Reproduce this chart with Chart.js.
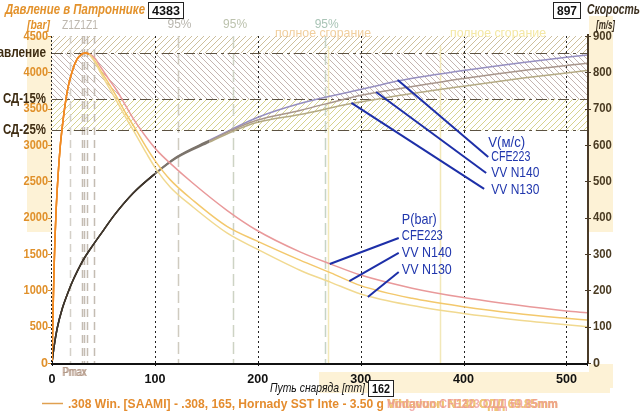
<!DOCTYPE html>
<html>
<head>
<meta charset="utf-8">
<script src="https://cdn.jsdelivr.net/npm/chart.js@4"></script>
<style>
  html, body { margin: 0; padding: 0; background: #fff; }
</style>
</head>
<body>
<canvas id="myChart" width="640" height="415"></canvas>
<script>

  ////////////////////
 // DONNÉES        //
////////////////////

// Pression (bar) selon le trajet de la balle (mm)
const distP = [0,1,2,3,4,6,8,10,13,16,20,24,28,32,36,42,47,55,63,72,82,92,102,115,137,170,199,241,271,300,350,400,450,500,520];
const pressCFE = [0,700,1300,1750,2100,2600,2980,3250,3580,3820,4030,4170,4240,4265,4255,4190,4080,3910,3750,3530,3297,3100,2926,2747,2473,2101,1827,1529,1360,1210,1030,900,800,715,690];
const pressN140 = [0,700,1300,1750,2100,2600,2980,3250,3580,3820,4030,4170,4240,4265,4250,4150,4030,3850,3658,3430,3200,2960,2747,2520,2239,1880,1680,1415,1240,1065,890,775,685,615,590];
const pressN130 = [0,700,1300,1750,2100,2600,2980,3250,3580,3820,4030,4170,4240,4262,4245,4130,4000,3800,3600,3370,3130,2880,2651,2420,2147,1790,1570,1277,1110,950,790,680,595,525,500];

// Vitesse (m/s)
const distV = [0,2,5,10,15,20,25,30,40,50,60,79,100,121,153,176,199,241,291,316,337,400,460,520];
const velCFE = [0,45,95,150,190,225,255,282,325,365,405,468,521,567,613,645,675,714,747,763,777,805,828,848];
const velN140 = [0,45,95,150,190,225,255,282,325,365,405,468,521,566,611,642,668,695,731,745,755,783,806,825];
const velN130 = [0,45,95,150,190,225,255,282,325,365,405,468,520,564,608,638,662,684,714,726,736,762,785,805];

// Graduations
const xTicks = [0,100,200,300,400,500];
const pTicks = [0,500,1000,1500,2000,2500,3000,3500,4000,4500];
const vTicks = [0,100,200,300,400,500,600,700,800,900];

// Niveaux de référence (bar)
const refLevels = [4265,3630,3200];
const refNames = ['давление','СД-15%','СД-25%'];

// Repères verticaux (mm)
const zMarks = [17.5,29,31,34,41];
const pct95Marks = [122,176,265];
const burnMarks = [268,377];

// Légendes bleues
const vNames = ['V(м/с)','CFE223','VV N140','VV N130'];
const pNames = ['P(bar)','CFE223','VV N140','VV N130'];


  ////////////////////
 // OUTILS         //
////////////////////

const pts = (xs, ys) => xs.map((x, i) => ({ x: x, y: ys[i] }));

function hatch(ctx, color, dir) {
  const c = document.createElement('canvas');
  c.width = 6; c.height = 6;
  const g = c.getContext('2d');
  g.strokeStyle = color;
  g.lineWidth = 1;
  g.beginPath();
  if (dir > 0) {
    g.moveTo(-1, 7); g.lineTo(7, -1);
    g.moveTo(-4, 4); g.lineTo(4, -4);
    g.moveTo(2, 10); g.lineTo(10, 2);
  } else {
    g.moveTo(-1, -1); g.lineTo(7, 7);
    g.moveTo(2, -4); g.lineTo(10, 4);
    g.moveTo(-4, 2); g.lineTo(4, 10);
  }
  g.stroke();
  return ctx.createPattern(c, 'repeat');
}

function txt(ctx, s, x, y, font, color, align, w) {
  ctx.save();
  ctx.font = font;
  ctx.fillStyle = color;
  ctx.textBaseline = 'middle';
  const m = ctx.measureText(s).width;
  const k = w ? w / m : 1;
  const width = m * k;
  let left = x;
  if (align === 'center') left = x - width / 2;
  if (align === 'right') left = x - width;
  ctx.translate(left, y);
  ctx.scale(k, 1);
  ctx.textAlign = 'left';
  ctx.fillText(s, 0, 0);
  ctx.restore();
}

function box(ctx, s, x, y, w, h) {
  ctx.save();
  ctx.fillStyle = '#fff';
  ctx.fillRect(x, y, w, h);
  ctx.strokeStyle = '#222';
  ctx.lineWidth = 1;
  ctx.strokeRect(x + 0.5, y + 0.5, w - 1, h - 1);
  ctx.restore();
  txt(ctx, s, x + w / 2, y + h / 2 + 1, 'bold 13px "Liberation Sans"', '#111', 'center', w - 8);
}

function vline(ctx, x, top, bottom, color, width, dash) {
  ctx.save();
  ctx.strokeStyle = color;
  ctx.lineWidth = width;
  ctx.setLineDash(dash);
  ctx.beginPath();
  ctx.moveTo(Math.round(x) + 0.5, top);
  ctx.lineTo(Math.round(x) + 0.5, bottom);
  ctx.stroke();
  ctx.restore();
}


  ////////////////////
 // DÉCOR          //
////////////////////

const decor = {
  id: 'decor',
  beforeDraw(chart) {
    const ctx = chart.ctx;
    ctx.save();
    ctx.fillStyle = '#fff';
    ctx.fillRect(0, 0, chart.width, chart.height);
    ctx.fillStyle = '#fdf2d6';
    ctx.fillRect(27, 36, 25, 196);
    ctx.fillRect(589, 16, 24, 216);
    ctx.fillRect(589, 364, 24, 24);
    ctx.fillRect(319, 372, 291, 21);
    ctx.restore();
  },
  beforeDatasetsDraw(chart) {
    const ctx = chart.ctx;
    const a = chart.chartArea;
    const x = chart.scales.x, yP = chart.scales.yP;

    // bandes hachurées
    const bands = [
      [4500, refLevels[0], hatch(ctx, '#cdbf9c', 1)],
      [refLevels[0], refLevels[1], hatch(ctx, '#c4b4b0', -1)],
      [refLevels[1], refLevels[2], hatch(ctx, '#d6d28e', 1)]
    ];
    bands.forEach(b => {
      const t = yP.getPixelForValue(b[0]), btm = yP.getPixelForValue(b[1]);
      ctx.save();
      ctx.fillStyle = b[2];
      ctx.fillRect(a.left, t, a.right - a.left, btm - t);
      ctx.restore();
    });

    // repères verticaux
    zMarks.forEach((m, i) => vline(ctx, x.getPixelForValue(m), a.top, a.bottom, i === 0 ? '#d4d0c8' : '#c4bcb2', 1.5, [8, 5]));
    pct95Marks.forEach((m, i) => vline(ctx, x.getPixelForValue(m), a.top, a.bottom, ['#cfcbc0', '#cdd3c4', '#c6d4c6'][i], 1.5, [12, 5]));
    burnMarks.forEach(m => vline(ctx, x.getPixelForValue(m), a.top + 10, a.bottom, '#f2e8b8', 1.5, []));

    // grille pointillée
    xTicks.slice(1).forEach(t => vline(ctx, x.getPixelForValue(t), a.top, a.bottom, '#222', 1, [2, 3]));

    // lignes de référence
    ctx.save();
    ctx.strokeStyle = '#5c5242';
    ctx.lineWidth = 1;
    ctx.setLineDash([11, 4, 3, 4]);
    refLevels.forEach(v => {
      const y = Math.round(yP.getPixelForValue(v)) + 0.5;
      ctx.beginPath();
      ctx.moveTo(a.left, y);
      ctx.lineTo(a.right, y);
      ctx.stroke();
    });
    ctx.restore();
  },
  afterDatasetsDraw(chart) {
    const ctx = chart.ctx;
    const a = chart.chartArea;
    const x = chart.scales.x, yP = chart.scales.yP, yV = chart.scales.yV;
    const axisFont = 'bold 13px "Liberation Sans"';

    // axe gauche (pointillé)
    vline(ctx, a.left - 1, a.top, a.bottom, '#222', 1, [2, 2]);
    pTicks.forEach(t => {
      const y = yP.getPixelForValue(t);
      ctx.save();
      ctx.strokeStyle = '#e0902a';
      ctx.beginPath();
      ctx.moveTo(a.left - 4, Math.round(y) + 0.5);
      ctx.lineTo(a.left - 1, Math.round(y) + 0.5);
      ctx.stroke();
      ctx.restore();
      txt(ctx, String(t), a.left - 4, y, axisFont, '#e0902a', 'right', t ? 6.1 * String(t).length : 7);
    });

    // axe droit
    ctx.save();
    ctx.strokeStyle = '#4a3b28';
    ctx.lineWidth = 2;
    ctx.beginPath();
    ctx.moveTo(a.right + 1, a.top - 2);
    ctx.lineTo(a.right + 1, a.bottom + 1);
    ctx.stroke();
    ctx.lineWidth = 1;
    vTicks.forEach(t => {
      const y = Math.round(yV.getPixelForValue(t)) + 0.5;
      ctx.beginPath();
      ctx.moveTo(a.right - 2, y);
      ctx.lineTo(a.right + 4, y);
      ctx.stroke();
    });
    ctx.restore();
    vTicks.forEach(t => txt(ctx, String(t), a.right + 6, yV.getPixelForValue(t), axisFont, '#4a3b22', 'left', t ? 6.3 * String(t).length : 7));

    // axe bas
    ctx.save();
    ctx.strokeStyle = '#111';
    ctx.lineWidth = 2;
    ctx.beginPath();
    ctx.moveTo(a.left - 1, a.bottom + 1);
    ctx.lineTo(a.right + 1, a.bottom + 1);
    ctx.stroke();
    ctx.lineWidth = 1;
    xTicks.concat([520]).forEach(t => {
      const xp = Math.round(x.getPixelForValue(t)) + 0.5;
      ctx.beginPath();
      ctx.moveTo(xp, a.bottom - 2);
      ctx.lineTo(xp, a.bottom + 3);
      ctx.stroke();
    });
    ctx.restore();
    xTicks.forEach(t => txt(ctx, String(t), x.getPixelForValue(t), a.bottom + 16, axisFont, '#111', 'center', t ? 21 : 7));

    // niveaux de référence
    refLevels.forEach((v, i) => txt(ctx, refNames[i], 46, yP.getPixelForValue(v), 'bold 14px "Liberation Sans"', '#3e2c12', 'right', i ? 43 : 56));

    // titres
    txt(ctx, 'Давление в Патроннике', 5, 10, 'italic bold 14px "Liberation Sans"', '#e3922c', 'left', 140);
    box(ctx, '4383', 148, 2, 36, 17);
    txt(ctx, '[bar]', 27, 25, 'italic bold 13px "Liberation Sans"', '#e3922c', 'left', 23);
    txt(ctx, 'Z1Z1Z1', 62, 25, '13px "Liberation Sans"', '#bdb7ae', 'left', 36);
    const pc = ['#b9b6ae', '#bcc2ad', '#a9c4b6'];
    pct95Marks.forEach((m, i) => txt(ctx, '95%', x.getPixelForValue(m) + 2, 24, '13px "Liberation Sans"', pc[i], 'center', 24));
    txt(ctx, 'полное сгорание', 323, 33, '13px "Liberation Sans"', '#f1cf9e', 'center', 96);
    txt(ctx, 'полное сгорание', 498, 33, '13px "Liberation Sans"', '#f4e8a4', 'center', 96);
    box(ctx, '897', 553, 2, 28, 17);
    txt(ctx, 'Скорость', 587, 10, 'italic bold 14px "Liberation Sans"', '#3c3020', 'left', 53);
    txt(ctx, '[m/s]', 596, 25, 'italic bold 13px "Liberation Sans"', '#3c3020', 'left', 19);

    // bas
    txt(ctx, 'Pmax', 62, 373, '12px "Liberation Sans"', '#c0a08e', 'left', 24);
    txt(ctx, 'Pmax', 63, 373, '12px "Liberation Sans"', '#b09a8a', 'left', 24);
    txt(ctx, 'Путь снаряда [mm]', 270, 388, 'italic 13px "Liberation Sans"', '#111', 'left', 95);
    box(ctx, '162', 368, 380, 26, 17);
    ctx.save();
    ctx.strokeStyle = '#e0a050';
    ctx.lineWidth = 1.5;
    ctx.beginPath();
    ctx.moveTo(42, 403.5);
    ctx.lineTo(63, 403.5);
    ctx.stroke();
    ctx.restore();
    txt(ctx, '.308 Win. [SAAMI] - .308, 165, Hornady SST Inte - 3.50 g', 68, 404, 'bold 13px "Liberation Sans"', '#e48c2e', 'left', 316);
    txt(ctx, 'Vihtavuori N130 ОДД 69.85mm', 387, 404, 'bold 13px "Liberation Sans"', '#ecb868', 'left', 171);
    txt(ctx, 'Vihtavuori N140 ОДД 69.85mm', 388, 404, 'bold 13px "Liberation Sans"', '#f0c878', 'left', 170);
    txt(ctx, 'Hodgdon CFE223 ОДД 69.85mm', 387, 404, 'bold 13px "Liberation Sans"', 'rgba(238,150,150,0.75)', 'left', 171);

    // annotations bleues
    const blue = '#2137ad';
    const noteFont = '15px "Liberation Sans"';
    const leader = (x0, y0, x1, y1, sc) => {
      ctx.save();
      ctx.strokeStyle = '#1d2fa8';
      ctx.lineWidth = 2;
      ctx.beginPath();
      ctx.moveTo(x.getPixelForValue(x0), sc.getPixelForValue(y0));
      ctx.lineTo(x.getPixelForValue(x1), sc.getPixelForValue(y1));
      ctx.stroke();
      ctx.restore();
    };
    leader(424, 567, 336, 779, yV);
    leader(422, 523, 315, 746, yV);
    leader(420, 479, 291, 716, yV);
    const vY = [605, 567, 523, 476];
    const vW = [37, 39, 48, 48];
    vNames.forEach((s, i) => txt(ctx, s, x.getPixelForValue(i ? 427 : 424), yV.getPixelForValue(vY[i]), noteFont, blue, 'left', vW[i]));

    leader(337, 1720, 270, 1362, yP);
    leader(337, 1514, 289, 1128, yP);
    leader(337, 1252, 307, 908, yP);
    const pY = [1968, 1748, 1514, 1280];
    const pW = [35, 41, 50, 50];
    pNames.forEach((s, i) => txt(ctx, s, x.getPixelForValue(340), yP.getPixelForValue(pY[i]), noteFont, blue, 'left', pW[i]));
  }
};


  ////////////////////
 // GRAPHIQUE      //
////////////////////

const dark = '#3f362c';
const orange = '#f08a22';

const velSet = (label, data, color) => ({
  label: label,
  data: pts(distV, data),
  yAxisID: 'yV',
  borderColor: color,
  borderWidth: 1.5,
  pointRadius: 0,
  cubicInterpolationMode: 'monotone',
  segment: { borderColor: c => c.p1.parsed.x <= 100 ? dark : (c.p1.parsed.x <= 153 ? '#7c746c' : color) }
});

const pressSet = (label, data, color) => ({
  label: label,
  data: pts(distP, data),
  yAxisID: 'yP',
  borderColor: color,
  borderWidth: 1.5,
  pointRadius: 0,
  cubicInterpolationMode: 'monotone',
  segment: { borderColor: c => c.p1.parsed.x <= 36 ? orange : color }
});

const ctxOne = document.getElementById('myChart').getContext('2d');

new Chart(ctxOne, {
  type: 'line',
  data: {
    datasets: [
      pressSet('P N130', pressN130, '#f1d990'),
      pressSet('P N140', pressN140, '#f3c86c'),
      pressSet('P CFE223', pressCFE, '#e9999a'),
      velSet('V N130', velN130, '#b4aa84'),
      velSet('V N140', velN140, '#a8968c'),
      velSet('V CFE223', velCFE, '#968fc0')
    ]
  },
  options: {
    responsive: false,
    animation: false,
    devicePixelRatio: 1,
    layout: { padding: { left: 52, right: 53, top: 36, bottom: 52 } },
    plugins: { legend: { display: false }, tooltip: { enabled: false } },
    scales: {
      x: { type: 'linear', min: 0, max: 520, display: false },
      yP: { type: 'linear', position: 'left', min: 0, max: 4500, display: false },
      yV: { type: 'linear', position: 'right', min: 0, max: 900, display: false }
    }
  },
  plugins: [decor]
});

</script>
</body>
</html>
